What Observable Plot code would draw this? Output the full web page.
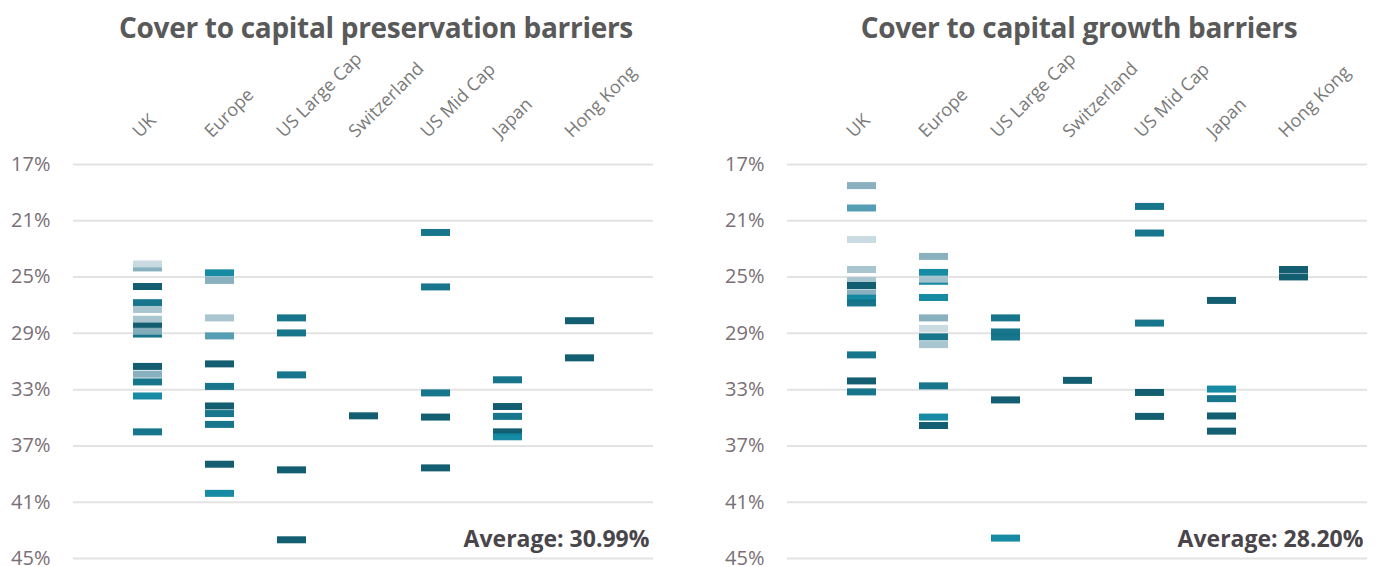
<!DOCTYPE html>
<html><head><meta charset="utf-8">
<script src="https://cdn.jsdelivr.net/npm/d3@7"></script>
<script src="https://cdn.jsdelivr.net/npm/@observablehq/plot@0.6"></script>
<style>
body{margin:0;background:#fff;font-family:"Open Sans",sans-serif;}
#wrap{position:relative;width:1380px;height:567px;overflow:hidden;background:#fff;}
.panel{position:absolute;top:0;width:666px;height:567px;}
.title{position:absolute;top:10px;line-height:34px;white-space:nowrap;font-weight:700;color:#595959;font-size:28px;letter-spacing:-0.3px;transform:translateX(-50%);}
.chart{position:absolute;top:60px;left:0;}
.chart svg{overflow:visible;}
</style></head>
<body>
<div id="wrap">
  <div class="panel" id="left" style="left:0px"><div class="title" style="left:376px">Cover to capital preservation barriers</div><div class="chart"></div></div>
  <div class="panel" id="right" style="left:714px"><div class="title" style="left:365px">Cover to capital growth barriers</div><div class="chart"></div></div>
</div>
<script>
const categories = ["UK","Europe","US Large Cap","Switzerland","US Mid Cap","Japan","Hong Kong"];
const yTicks = [17,21,25,29,33,37,41,45];
// shade groups 0 (palest) .. 6 (darkest)
const toneLevels = [0,1,2,3,4,5,6];
const toneColors = ["#c8dae0","#a6c3cd","#85adbc","#4f9bb1","#0e87a0","#0f7288","#0b5a6c"];

// [value %, shade group]
const presUK = [[24.35,2],[24.07,0],[25.67,6],[26.82,5],[27.3,1],[28.0,1],[28.48,6],[29.05,5],[28.85,2],[31.35,6],[31.9,2],[32.45,5],[33.45,4],[36.0,5]];
const presEurope = [[24.7,4],[25.24,2],[27.9,1],[29.18,3],[31.17,6],[32.77,5],[34.16,6],[34.7,5],[35.47,5],[38.3,6],[40.37,4]];
const presUSLarge = [[27.9,5],[28.97,5],[31.95,5],[38.7,6],[43.67,6]];
const presSwiss = [[34.86,6]];
const presUSMid = [[21.83,5],[25.7,5],[33.23,5],[34.95,6],[38.56,6]];
const presJapan = [[32.3,5],[34.2,6],[34.9,5],[36.0,6],[36.35,4]];
const presHK = [[28.1,6],[30.74,6]];

const growUK = [[18.5,2],[20.09,3],[22.33,0],[24.46,1],[25.25,1],[25.6,6],[26.13,2],[26.5,4],[26.84,5],[30.53,5],[32.38,6],[33.16,5]];
const growEurope = [[23.53,2],[24.67,4],[25.3,4],[25.15,1],[26.45,4],[27.9,2],[28.65,0],[29.25,5],[29.8,1],[32.73,5],[34.95,4],[35.55,6]];
const growUSLarge = [[27.9,5],[28.9,5],[29.26,5],[33.73,6],[43.55,4]];
const growSwiss = [[32.34,6]];
const growUSMid = [[19.98,5],[21.87,5],[28.27,5],[33.2,6],[34.9,6]];
const growJapan = [[26.66,6],[32.96,4],[33.64,5],[34.87,6],[35.95,6]];
const growHK = [[24.46,6],[24.99,6]];

const presAverage = "Average: 30.99%";
const growAverage = "Average: 28.20%";

function rows(lists){
  const out = [];
  lists.forEach((list, i) => list.forEach(([value, tone]) => out.push({cat: categories[i], value, tone})));
  return out;
}
const presRows = rows([presUK,presEurope,presUSLarge,presSwiss,presUSMid,presJapan,presHK]);
const growRows = rows([growUK,growEurope,growUSLarge,growSwiss,growUSMid,growJapan,growHK]);

function chart(data, avg){
  return Plot.plot({
    width: 666, height: 507,
    marginTop: 104, marginBottom: 9, marginLeft: 73, marginRight: 13,
    style: {fontFamily: "'Open Sans', sans-serif", background: "transparent", overflow: "visible"},
    x: {type: "band", domain: categories, paddingInner: 0.6, paddingOuter: 0.8, axis: null},
    y: {domain: [17, 45], reverse: true, axis: null},
    color: {type: "ordinal", domain: toneLevels, range: toneColors},
    marks: [
      Plot.gridY(yTicks, {stroke: "#e3e3e3", strokeWidth: 2, strokeOpacity: 1}),
      Plot.axisY(yTicks, {tickSize: 0, tickPadding: 23, fontSize: 20, fill: "#7a6f76", tickFormat: d => d + "%", label: null}),
      Plot.axisX({anchor: "top", tickSize: 0, tickPadding: 28, tickRotate: -45, fontSize: 18, fill: "#7a7a7a", textAnchor: "start", dx: -12, dy: -2, label: null, clip: false}),
      Plot.tickY(data, {x: "cat", y: "value", stroke: "tone", strokeWidth: 7, strokeOpacity: 0.97}),
      Plot.text([avg], {frameAnchor: "bottom-right", text: d => d, fontSize: 23, fontWeight: 700, fill: "#49454a", dx: -4, dy: -12})
    ]
  });
}
document.querySelector("#left .chart").append(chart(presRows, presAverage));
document.querySelector("#right .chart").append(chart(growRows, growAverage));
</script>
</body></html>
